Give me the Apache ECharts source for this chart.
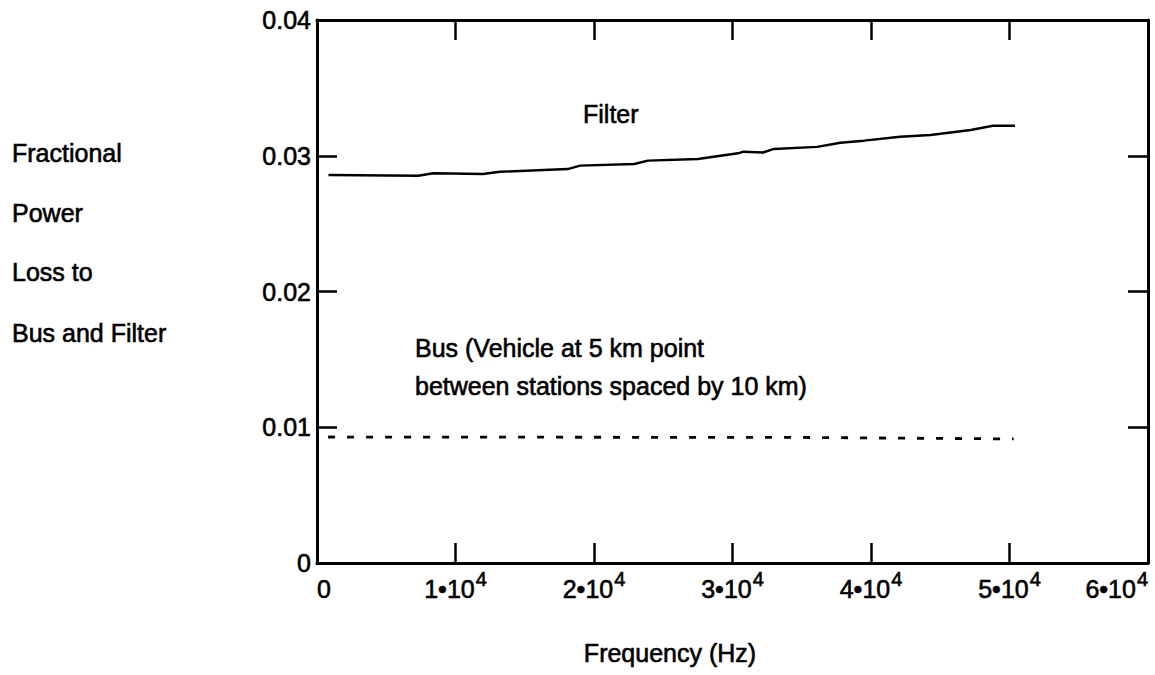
<!DOCTYPE html>
<html>
<head>
<meta charset="utf-8">
<script src="https://cdn.jsdelivr.net/npm/echarts@6/dist/echarts.min.js"></script>
<style>
html,body{margin:0;padding:0;background:#fff;}
#chart{width:1155px;height:675px;}
</style>
</head>
<body>
<div id="chart"></div>
<script>
// ---- data ----
const filterFreq = [830, 7300, 8400, 12000, 13200, 18100, 19000, 22900, 23900, 27500, 30400, 30800, 32200, 33000, 36100, 37800, 39500, 42100, 44300, 47200, 48800, 50400];
const filterLoss = [0.02858, 0.02853, 0.02871, 0.02866, 0.02882, 0.02902, 0.02927, 0.02939, 0.02964, 0.02976, 0.03018, 0.03030, 0.03024, 0.03050, 0.03065, 0.03096, 0.03111, 0.03140, 0.03153, 0.03190, 0.03221, 0.03221];
const busFreq = [800, 35000, 50300];
const busLoss = [0.00928, 0.00925, 0.00914];
const xMin = 0, xMax = 60000, xStep = 10000;
const yMin = 0, yMax = 0.04, yStep = 0.01;
const yTitleLines = ['Fractional', 'Power', 'Loss to', 'Bus and Filter'];
const filterLabel = 'Filter';
const busLabelLines = ['Bus (Vehicle at 5 km point', 'between stations spaced by 10 km)'];
const xTitle = 'Frequency (Hz)';

const FONT = '"Liberation Sans", Arial, Helvetica, sans-serif';
const chart = echarts.init(document.getElementById('chart'), null, {renderer: 'svg'});

const axisLineStyle = {color: '#000', width: 3};
const tickStyle = {color: '#000', width: 2.5};
const INK = {textBorderColor: '#000', textBorderWidth: 0.6};

function xLabel(v) {
  if (v === 0) return '{m|0}{s| }';
  return '{m|' + (v / 1e4) + '•10}{s|4}';
}

const txt = (text, x, y, align) => ({
  type: 'text',
  style: {
    text: text, x: x, y: y,
    fill: '#000', font: '25px ' + FONT,
    fontSize: 25, fontFamily: FONT,
    align: align || 'left', textAlign: align || 'left',
    verticalAlign: 'middle', textVerticalAlign: 'middle',
    stroke: '#000', lineWidth: 0.6
  }
});

const graphics = [];
const yTitleY = [152.5, 213, 271.5, 332.5];
yTitleLines.forEach((t, i) => graphics.push(txt(t, 12, yTitleY[i])));
graphics.push(txt(filterLabel, 583, 113.5));
graphics.push(txt(busLabelLines[0], 415, 347.5));
graphics.push(txt(busLabelLines[1], 415, 386));
graphics.push(txt(xTitle, 670, 653, 'center'));

const option = {
  backgroundColor: '#fff',
  animation: false,
  grid: {left: 317, right: 7, top: 20, bottom: 112, containLabel: false},
  xAxis: [{
    type: 'value', min: xMin, max: xMax, interval: xStep, position: 'bottom',
    axisLine: {show: true, onZero: false, lineStyle: axisLineStyle},
    axisTick: {show: true, inside: true, length: 20, lineStyle: tickStyle},
    splitLine: {show: false},
    axisLabel: {
      show: true, margin: 13, formatter: xLabel,
      alignMinLabel: 'left', alignMaxLabel: 'right',
      color: '#000',
      rich: {
        m: Object.assign({fontSize: 25, fontFamily: FONT, color: '#000', lineHeight: 25, verticalAlign: 'bottom'}, INK),
        s: Object.assign({fontSize: 20, fontFamily: FONT, color: '#000', lineHeight: 20, verticalAlign: 'bottom', padding: [0, 0, 12, 1]}, INK)
      }
    }
  }, {
    type: 'value', min: xMin, max: xMax, interval: xStep, position: 'top',
    axisLine: {show: true, onZero: false, lineStyle: axisLineStyle},
    axisTick: {show: true, inside: true, length: 20, lineStyle: tickStyle},
    splitLine: {show: false},
    axisLabel: {show: false}
  }],
  yAxis: [{
    type: 'value', min: yMin, max: yMax, interval: yStep, position: 'left',
    axisLine: {show: true, onZero: false, lineStyle: axisLineStyle},
    axisTick: {show: true, inside: true, length: 20, lineStyle: tickStyle},
    splitLine: {show: false},
    axisLabel: Object.assign({show: true, margin: 6, color: '#000', fontSize: 25, fontFamily: FONT,
      formatter: v => String(+v.toFixed(2))}, INK)
  }, {
    type: 'value', min: yMin, max: yMax, interval: yStep, position: 'right',
    axisLine: {show: true, onZero: false, lineStyle: axisLineStyle},
    axisTick: {show: true, inside: true, length: 20, lineStyle: tickStyle},
    splitLine: {show: false},
    axisLabel: {show: false}
  }],
  series: [{
    name: 'Filter', type: 'line', xAxisIndex: 0, yAxisIndex: 0,
    data: filterFreq.map((f, i) => [f, filterLoss[i]]),
    showSymbol: false, symbol: 'none', smooth: false,
    lineStyle: {color: '#000', width: 2.4}
  }, {
    name: 'Bus', type: 'line', xAxisIndex: 0, yAxisIndex: 0,
    data: busFreq.map((f, i) => [f, busLoss[i]]),
    showSymbol: false, symbol: 'none',
    lineStyle: {color: '#000', width: 2.8, type: [7, 12]}
  }],
  graphic: graphics
};
chart.setOption(option);
</script>
</body>
</html>
